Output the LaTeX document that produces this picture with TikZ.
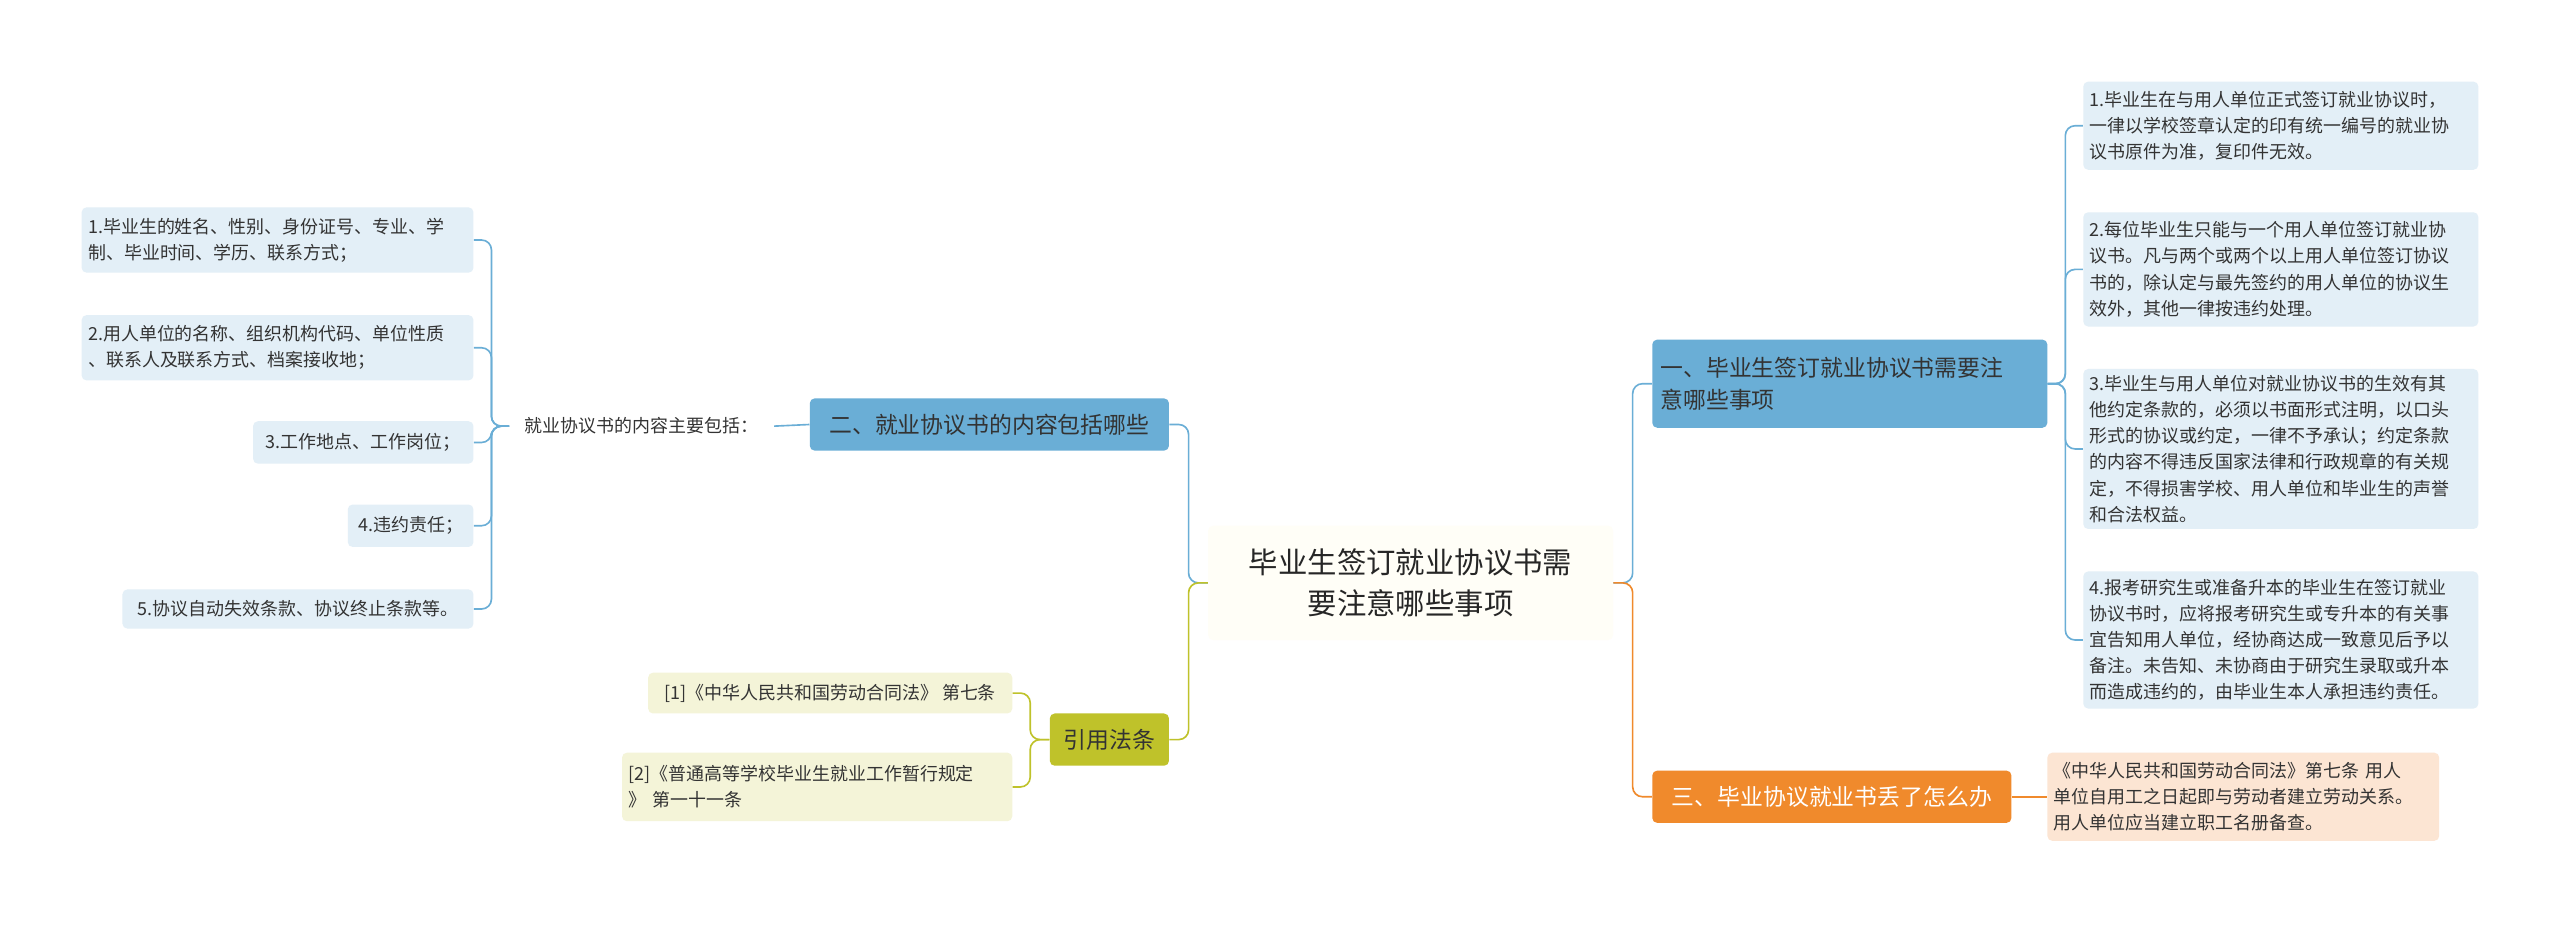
\documentclass[tikz,border=0pt]{standalone}
\usepackage{fontspec}
\setmainfont{Noto Sans CJK SC}
\begin{document}
\begin{tikzpicture}[x=1pt,y=-1pt,
 box/.style={rounded corners=3pt,inner sep=0pt,align=left,font=\fontsize{11}{16}\selectfont,text=black!80},
 leafb/.style={box,fill=blue!8!cyan!6},
 leafo/.style={box,fill=orange!20},
 leafy/.style={box,fill=yellow!15!olive!10},
 ln/.style={line width=1pt,rounded corners=6pt}]
\definecolor{bl}{HTML}{6AAED6}
\definecolor{ol}{HTML}{BFC22A}
\definecolor{or}{HTML}{F08A2C}
\definecolor{lb}{HTML}{E3EFF7}
\definecolor{lo}{HTML}{FCE5D3}
\definecolor{ly}{HTML}{F4F4D8}
\fill[white] (0,0) rectangle (1568,566);
\useasboundingbox (0,0) rectangle (1568,566);
% center
\node[box,fill=black!7!yellow!3,minimum width=248,minimum height=70,align=center,font=\fontsize{18}{25}\selectfont,text=black!85] (c) at (864,357) {毕业生签订就业协议书需\\要注意哪些事项};
% right branch 1
\node[box,fill=bl,minimum width=242,minimum height=54,font=\fontsize{14}{20}\selectfont,text width=232,inner xsep=5pt] (b1) at (1133,235) {一、毕业生签订就业协议书需要注\\意哪些事项};
\node[box,fill=lb,minimum width=242,minimum height=54,text width=234,inner xsep=4pt] (r1) at (1397,77) {1.毕业生在与用人单位正式签订就业协议时，\\一律以学校签章认定的印有统一编号的就业协\\议书原件为准，复印件无效。};
\node[box,fill=lb,minimum width=242,minimum height=70,text width=234,inner xsep=4pt] (r2) at (1397,165) {2.每位毕业生只能与一个用人单位签订就业协\\议书。凡与两个或两个以上用人单位签订协议\\书的，除认定与最先签约的用人单位的协议生\\效外，其他一律按违约处理。};
\node[box,fill=lb,minimum width=242,minimum height=98,text width=234,inner xsep=4pt] (r3) at (1397,275) {3.毕业生与用人单位对就业协议书的生效有其\\他约定条款的，必须以书面形式注明，以口头\\形式的协议或约定，一律不予承认；约定条款\\的内容不得违反国家法律和行政规章的有关规\\定，不得损害学校、用人单位和毕业生的声誉\\和合法权益。};
\node[box,fill=lb,minimum width=242,minimum height=84,text width=234,inner xsep=4pt] (r4) at (1397,392) {4.报考研究生或准备升本的毕业生在签订就业\\协议书时，应将报考研究生或专升本的有关事\\宜告知用人单位，经协商达成一致意见后予以\\备注。未告知、未协商由于研究生录取或升本\\而造成违约的，由毕业生本人承担违约责任。};
% right branch 3
\node[box,fill=or,minimum width=220,minimum height=32,font=\fontsize{14}{20}\selectfont,text=white,align=center] (b3) at (1122,488) {三、毕业协议就业书丢了怎么办};
\node[box,fill=lo,minimum width=240,minimum height=54,text width=232,inner xsep=4pt] (o1) at (1374,488) {《中华人民共和国劳动合同法》第七条 用人\\单位自用工之日起即与劳动者建立劳动关系。\\用人单位应当建立职工名册备查。};
% left branch 2
\node[box,fill=bl,minimum width=220,minimum height=32,font=\fontsize{14}{20}\selectfont,align=center] (b2) at (606,260) {二、就业协议书的内容包括哪些};
\node[box,minimum width=162,minimum height=22,align=center] (s) at (393,261) {就业协议书的内容主要包括：};
\node[box,fill=lb,minimum width=240,minimum height=40,text width=232,inner xsep=4pt] (l1) at (170,147) {1.毕业生的姓名、性别、身份证号、专业、学\\制、毕业时间、学历、联系方式；};
\node[box,fill=lb,minimum width=240,minimum height=40,text width=232,inner xsep=4pt] (l2) at (170,213) {2.用人单位的名称、组织机构代码、单位性质\\、联系人及联系方式、档案接收地；};
\node[box,fill=lb,minimum width=135,minimum height=26,align=center] (l3) at (222.5,271) {3.工作地点、工作岗位；};
\node[box,fill=lb,minimum width=77,minimum height=26,align=center] (l4) at (251.5,322) {4.违约责任；};
\node[box,fill=lb,minimum width=215,minimum height=24,align=center] (l5) at (182.5,373) {5.协议自动失效条款、协议终止条款等。};
% left branch cite
\node[box,fill=ol,minimum width=73,minimum height=32,font=\fontsize{14}{20}\selectfont,align=center] (b4) at (679.5,453) {引用法条};
\node[box,fill=ly,minimum width=223,minimum height=25,align=center] (y1) at (508.5,424.5) {[1]《中华人民共和国劳动合同法》 第七条};
\node[box,fill=ly,minimum width=239,minimum height=42,text width=231,inner xsep=4pt] (y2) at (500.5,482) {[2]《普通高等学校毕业生就业工作暂行规定\\》 第一十一条};
% connectors
\draw[ln,bl] (c.west) -- (728,357) |- (b2.east);
\draw[ln,ol] (c.west) -- (728,357) |- (b4.east);
\draw[ln,bl] (c.east) -- (1000,357) |- (b1.west);
\draw[ln,or] (c.east) -- (1000,357) |- (b3.west);
\foreach \n in {r1,r2,r3,r4} \draw[ln,bl] (b1.east) -- (1265,235) |- (\n.west);
\draw[ln,or] (b3.east) -- (o1.west);
\draw[ln,bl] (b2.west) -- (s.east);
\foreach \n in {l1,l2,l3,l4,l5} \draw[ln,bl] (s.west) -- (301,261) |- (\n.east);
\foreach \n in {y1,y2} \draw[ln,ol] (b4.west) -- (631,453) |- (\n.east);
\end{tikzpicture}
\end{document}
